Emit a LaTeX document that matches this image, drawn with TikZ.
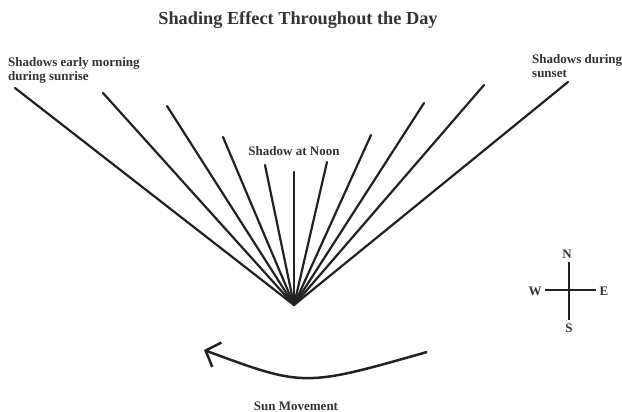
\documentclass[tikz,border=0pt]{standalone}
\usepackage{fontspec}
\setmainfont{Liberation Serif}
\usetikzlibrary{arrows.meta}
\definecolor{ink}{HTML}{222222}
\definecolor{txt}{HTML}{333333}
\tikzset{every node/.style={font=\bfseries\fontsize{13}{14}\selectfont,text=txt,inner sep=0pt},ray/.style={ink,line width=2.2pt,line cap=round},arm/.style={ink,line width=2.2pt},sun/.style={ink,line width=2.5pt,-{Straight Barb[length=12pt,width=26pt]}}}
\begin{document}
\begin{tikzpicture}[x=1pt,y=-1pt]
\useasboundingbox (0,0) rectangle (622,412);
\node[font=\bfseries\fontsize{18.3}{20}\selectfont,anchor=base] (title) at (298,25) {Shading Effect Throughout the Day};
\node[anchor=north west,align=left] (sunrise) at (8,57) {Shadows early morning\\during sunrise};
\node[anchor=north west,align=left] (sunset) at (532,54) {Shadows during\\sunset};
\node[anchor=base] (noon) at (294,155) {Shadow at Noon};
\coordinate (apex) at (294,305);
\foreach \i/\x/\y in {1/15/88,2/103/93,3/167/106,4/223/137,5/265/165,6/294/172,7/327/162,8/371/135,9/424/103,10/484/85,11/568/82}{\coordinate (r\i) at (\x,\y);\draw[ray] (apex)--(r\i);}
\coordinate (c) at (569,290);\coordinate (cn) at (569,262);\coordinate (cs) at (569,320);\coordinate (cw) at (545,290);\coordinate (ce) at (596,290);
\draw[arm] (cn)--(cs);\draw[arm] (cw)--(ce);
\node (N) at (567,254) {N};\node (S) at (569,328) {S};\node (W) at (535,291) {W};\node (E) at (604,291) {E};
\coordinate (east) at (427,352);\coordinate (west) at (204,350);
\draw[sun] (east) .. controls (304,387) .. (west);
\node[anchor=base] (move) at (296,410) {Sun Movement};
\end{tikzpicture}
\end{document}
